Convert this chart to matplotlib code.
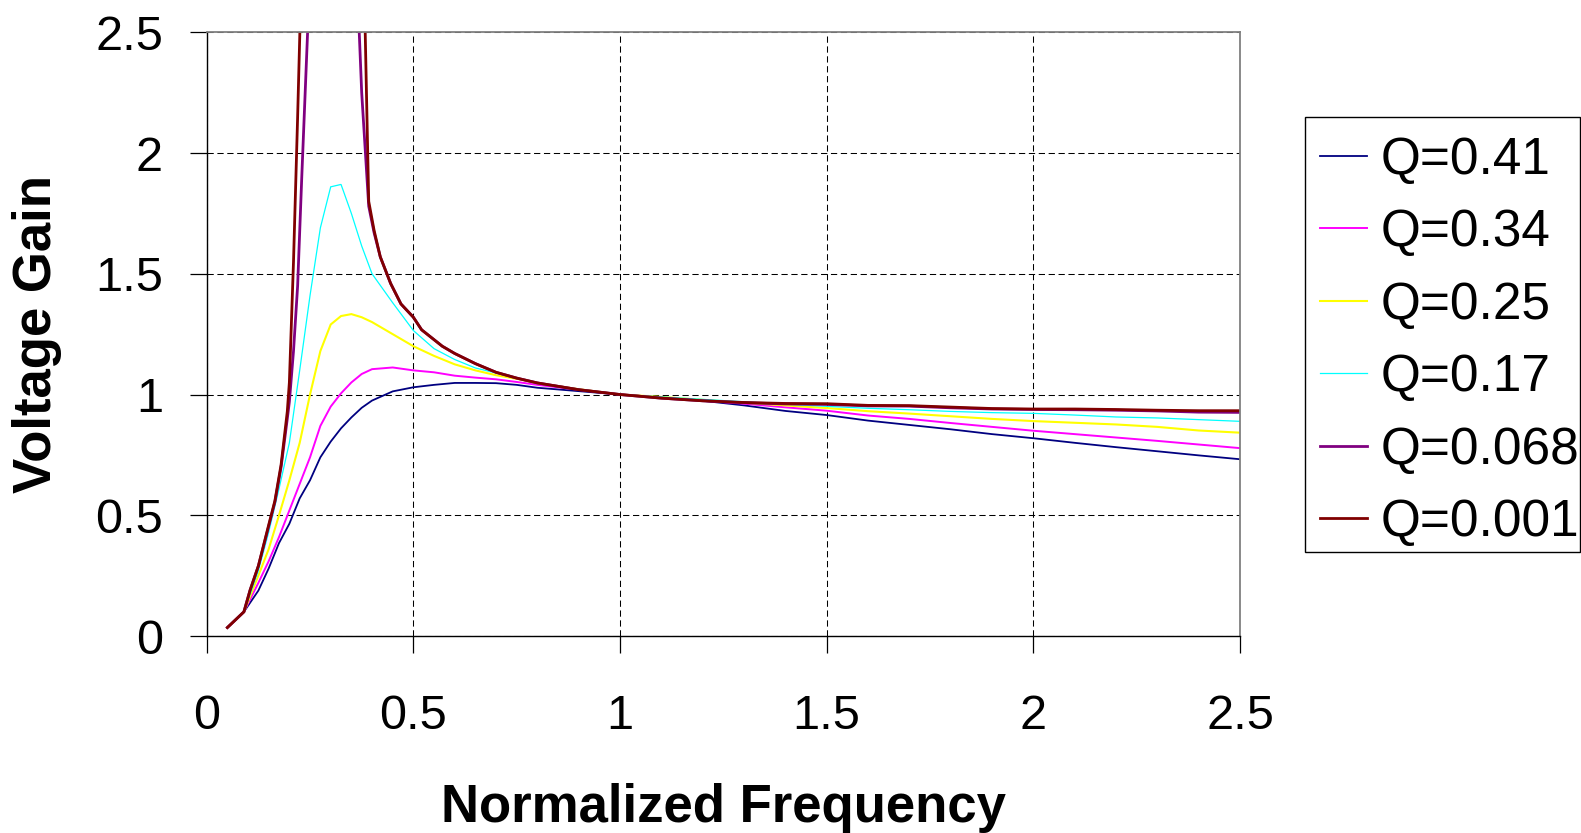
import matplotlib
matplotlib.use("Agg")
import matplotlib.pyplot as plt
from matplotlib.patches import Rectangle

plt.rcParams['font.family'] = ['Liberation Sans', 'DejaVu Sans']

# ---------------- data ----------------
freq = [0.05, 0.09, 0.125, 0.15, 0.175, 0.2, 0.225, 0.25, 0.275, 0.3, 0.325, 0.35,
        0.375, 0.4, 0.45, 0.5, 0.55, 0.6, 0.65, 0.7, 0.75, 0.8, 0.9, 1.0, 1.1, 1.2,
        1.3, 1.4, 1.5, 1.6, 1.7, 1.8, 1.9, 2.0, 2.1, 2.2, 2.3, 2.4, 2.5]

gain_q041 = [0.035, 0.10, 0.188, 0.28, 0.385, 0.465, 0.57, 0.645, 0.74, 0.805, 0.86, 0.905,
             0.945, 0.975, 1.013, 1.03, 1.04, 1.048, 1.048, 1.047, 1.04, 1.028, 1.014, 1.0,
             0.988, 0.974, 0.955, 0.932, 0.915, 0.892, 0.874, 0.856, 0.836, 0.819, 0.80,
             0.782, 0.765, 0.748, 0.732]

gain_q034 = [0.035, 0.10, 0.22, 0.31, 0.41, 0.52, 0.63, 0.74, 0.87, 0.95, 1.005, 1.05,
             1.085, 1.105, 1.112, 1.10, 1.092, 1.078, 1.07, 1.063, 1.052, 1.04, 1.02, 1.0,
             0.988, 0.975, 0.962, 0.947, 0.933, 0.913, 0.899, 0.882, 0.866, 0.85, 0.836,
             0.822, 0.808, 0.793, 0.778]

gain_q025 = [0.035, 0.10, 0.25, 0.36, 0.50, 0.645, 0.80, 1.0, 1.18, 1.29, 1.325, 1.333,
             1.32, 1.30, 1.25, 1.20, 1.16, 1.125, 1.10, 1.08, 1.065, 1.047, 1.022, 1.0,
             0.99, 0.978, 0.966, 0.955, 0.944, 0.931, 0.921, 0.91, 0.899, 0.89, 0.883,
             0.876, 0.866, 0.851, 0.842]

gain_q017 = [0.035, 0.10, 0.27, 0.43, 0.61, 0.80, 1.10, 1.41, 1.69, 1.86, 1.87, 1.75,
             1.615, 1.50, 1.38, 1.265, 1.19, 1.145, 1.11, 1.089, 1.068, 1.048, 1.022, 1.0,
             0.99, 0.98, 0.97, 0.96, 0.951, 0.943, 0.937, 0.93, 0.925, 0.922, 0.915,
             0.907, 0.903, 0.896, 0.889]

freq_low_q = [0.05, 0.09, 0.105, 0.125, 0.15, 0.165, 0.18, 0.195, 0.2, 0.21, 0.22, 0.23,
              0.25, 0.3, 0.35, 0.375, 0.392, 0.405, 0.42, 0.445, 0.47, 0.5, 0.52, 0.57,
              0.6, 0.65, 0.7, 0.75, 0.8, 0.9, 1.0, 1.1, 1.2, 1.3, 1.4, 1.5, 1.6, 1.7,
              1.8, 1.9, 2.0, 2.1, 2.2, 2.3, 2.4, 2.5]

gain_q0068 = [0.035, 0.10, 0.19, 0.29, 0.455, 0.555, 0.70, 0.90, 0.97, 1.18, 1.45, 1.90,
              2.75, 8.0, 3.3, 2.25, 1.78, 1.67, 1.57, 1.46, 1.375, 1.32, 1.268, 1.20,
              1.17, 1.128, 1.092, 1.068, 1.048, 1.02, 1.0, 0.985, 0.974, 0.966, 0.961,
              0.959, 0.953, 0.952, 0.945, 0.94, 0.938, 0.937, 0.935, 0.932, 0.927, 0.926]

gain_q0001 = [0.035, 0.10, 0.19, 0.29, 0.46, 0.56, 0.71, 0.93, 1.05, 1.55, 2.15, 2.8,
              6.0, 40.0, 6.0, 3.2, 1.80, 1.68, 1.57, 1.46, 1.375, 1.32, 1.268, 1.20,
              1.17, 1.128, 1.092, 1.068, 1.048, 1.02, 1.0, 0.985, 0.974, 0.967, 0.963,
              0.962, 0.955, 0.954, 0.948, 0.942, 0.94, 0.94, 0.938, 0.935, 0.933, 0.933]

labels = ["Q=0.41", "Q=0.34", "Q=0.25", "Q=0.17", "Q=0.068", "Q=0.001"]
ticks = [0, 0.5, 1, 1.5, 2, 2.5]
tick_labels = ["0", "0.5", "1", "1.5", "2", "2.5"]

# ---------------- figure ----------------
W, H = 1581, 833
fig = plt.figure(figsize=(W / 100, H / 100), dpi=100)
ax = fig.add_axes([206.7 / W, 1 - 636 / H, (1240 - 206.7) / W, (636 - 32.3) / H])

series = [
    (freq, gain_q041, "#000080", 1.3),
    (freq, gain_q034, "#FF00FF", 1.4),
    (freq, gain_q025, "#FFFF00", 1.5),
    (freq, gain_q017, "#00FFFF", 0.9),
    (freq_low_q, gain_q0068, "#800080", 2.0),
    (freq_low_q, gain_q0001, "#800000", 2.0),
]
handles = []
for (x, y, c, lw), lab in zip(series, labels):
    h, = ax.plot(x, y, color=c, lw=lw, label=lab, solid_joinstyle='miter')
    handles.append(h)

ax.set_xlim(0, 2.5)
ax.set_ylim(0, 2.5)
ax.set_xticks(ticks)
ax.set_xticklabels(tick_labels)
ax.set_yticks(ticks)
ax.set_yticklabels(tick_labels)
ax.tick_params(axis='both', direction='out', length=12.5, width=0.9, color='black',
               labelsize=35)
ax.tick_params(axis='x', pad=29)
ax.tick_params(axis='y', pad=19)

ax.grid(True, color='black', lw=0.75, dashes=(6, 3.5))
ax.set_axisbelow(True)

for s in ('left', 'bottom'):
    ax.spines[s].set_color('black')
    ax.spines[s].set_linewidth(1.0)
for s in ('top', 'right'):
    ax.spines[s].set_color('#808080')
    ax.spines[s].set_linewidth(1.3)

ax.set_xlabel("Normalized Frequency", fontsize=38, fontweight='bold')
ax.xaxis.set_label_coords(0.5, -0.243)
ax.set_ylabel("Voltage Gain", fontsize=38, fontweight='bold')
ax.yaxis.set_label_coords(-0.140, 0.5)

# legend
fig.patches.append(Rectangle((1305 / W, 1 - 552 / H), (1580 - 1305) / W, (552 - 117) / H,
                             transform=fig.transFigure, fill=False, edgecolor='black',
                             lw=1.0))
fig.legend(handles=handles, labels=labels, loc='upper left',
           bbox_to_anchor=(1320 / W, 1 - 136 / H), frameon=False, fontsize=37,
           borderpad=0, borderaxespad=0, handlelength=0.91, handletextpad=0.27,
           labelspacing=0.455)

fig.savefig("out.png", dpi=100)
